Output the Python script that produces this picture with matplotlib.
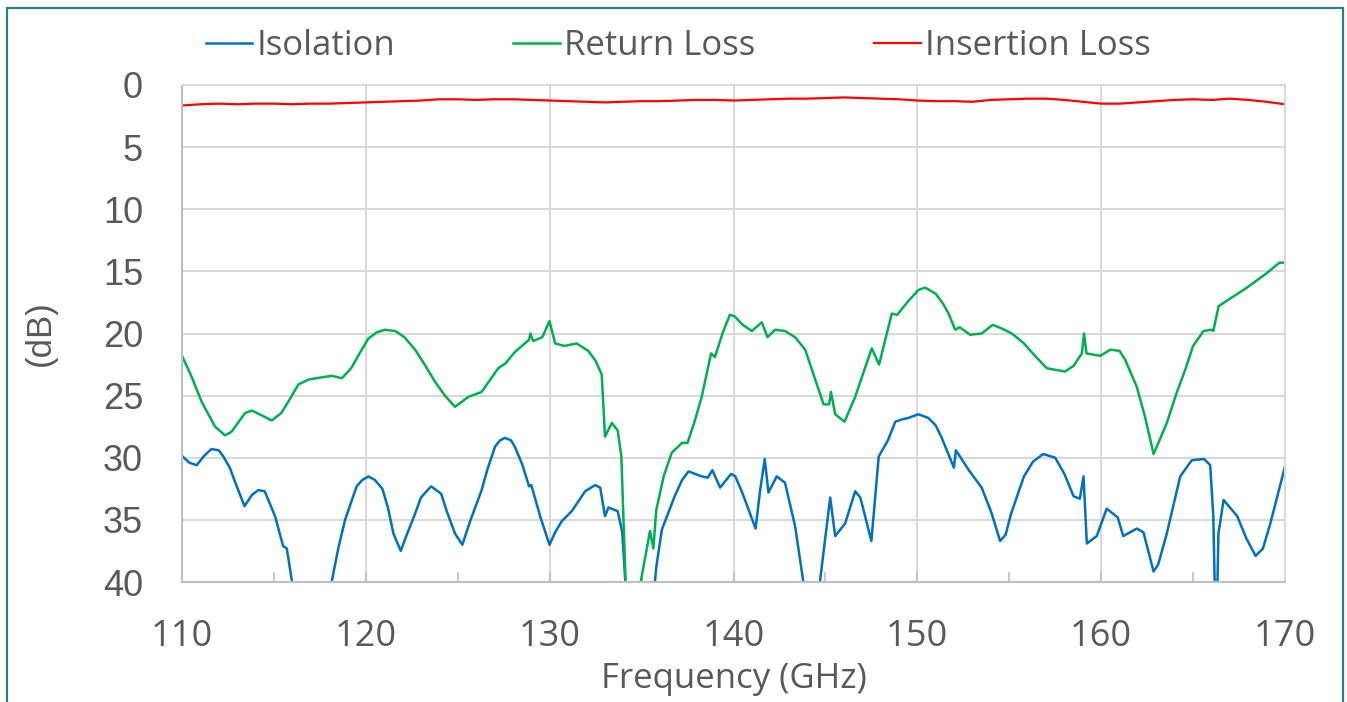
import matplotlib
matplotlib.use('Agg')
import matplotlib.pyplot as plt
from matplotlib.patches import Rectangle
from matplotlib.ticker import MultipleLocator

# Isolation (blue)
iso_f = [110.0, 110.4, 110.8, 111.2, 111.6, 112.0, 112.25, 112.6, 112.9, 113.4, 113.8, 114.15, 114.5,
         115.06, 115.5, 115.7, 116.2, 117.9, 118.14, 118.5, 118.87, 119.5, 119.8, 120.14, 120.5, 120.9,
         121.2, 121.5, 121.9, 122.2, 122.68, 123.0, 123.55, 124.1, 124.4, 124.85, 125.25, 125.7, 126.3,
         126.6, 127.03, 127.3, 127.57, 127.9, 128.1, 128.5, 128.88, 129.0, 129.5, 129.99, 130.3, 130.66,
         131.2, 131.93, 132.47, 132.75, 133.01, 133.2, 133.7, 133.95, 134.2, 135.6, 135.8, 136.1, 136.8,
         137.2, 137.55, 138.27, 138.6, 138.85, 139.27, 139.87, 140.1, 140.5, 141.2, 141.45, 141.7, 141.9,
         142.35, 142.8, 143.35, 143.8, 144.0, 144.5, 144.7, 145.26, 145.53, 146.07, 146.62, 146.9, 147.5,
         147.9, 148.4, 148.8, 149.2, 149.5, 150.06, 150.6, 151.0, 151.3, 151.99, 152.1, 152.8, 153.5,
         154.05, 154.5, 154.8, 155.1, 155.8, 156.3, 156.85, 157.5, 158.0, 158.5, 158.84, 159.04, 159.22,
         159.76, 160.3, 160.9, 161.2, 161.94, 162.3, 162.85, 163.1, 163.57, 164.3, 164.93, 165.6, 165.93,
         166.1, 166.2, 166.3, 166.38, 166.66, 167.4, 167.9, 168.4, 168.8, 169.2, 170.0]
iso_db = [29.85, 30.4, 30.6, 29.85, 29.3, 29.4, 29.9, 30.8, 32.0, 33.9, 33.0, 32.6, 32.7,
          34.7, 37.1, 37.3, 42, 42, 40, 37.3, 35.0, 32.3, 31.8, 31.5, 31.8, 32.5,
          34.0, 36.1, 37.5, 36.3, 34.5, 33.2, 32.3, 32.9, 34.3, 36.1, 37.0, 35.0, 32.6,
          31.0, 29.1, 28.6, 28.4, 28.6, 29.1, 30.5, 32.3, 32.2, 34.8, 37.0, 36.0, 35.1,
          34.3, 32.7, 32.2, 32.4, 34.7, 34.0, 34.3, 36.0, 42, 42, 38.8, 35.8, 33.1,
          31.8, 31.1, 31.5, 31.6, 31.0, 32.4, 31.3, 31.5, 32.9, 35.7, 32.6, 30.1, 32.8,
          31.5, 32.0, 35.5, 40, 42, 42, 40, 33.2, 36.3, 35.3, 32.7, 33.2, 36.7,
          29.9, 28.6, 27.1, 26.9, 26.8, 26.5, 26.8, 27.4, 28.3, 30.8, 29.4, 31.0, 32.4,
          34.5, 36.7, 36.2, 34.5, 31.5, 30.3, 29.7, 30.0, 31.3, 33.1, 33.3, 31.5, 36.9,
          36.3, 34.1, 34.8, 36.3, 35.7, 36.0, 39.15, 38.6, 36.1, 31.5, 30.2, 30.1, 30.6,
          34.7, 42, 42, 36.1, 33.4, 34.7, 36.5, 37.9, 37.3, 35.3, 30.7]

# Return Loss (green)
rl_f = [110.0, 110.5, 111.07, 111.8, 112.34, 112.7, 113.43, 113.8, 114.35, 114.88, 115.4, 115.9, 116.33,
        116.9, 118.14, 118.7, 119.2, 119.7, 120.14, 120.6, 121.04, 121.6, 122.1, 122.68, 123.2, 123.77,
        124.3, 124.85, 125.58, 126.3, 127.2, 127.6, 128.1, 128.88, 128.95, 129.1, 129.6, 129.99, 130.3,
        130.8, 131.47, 132.1, 132.5, 132.83, 133.01, 133.38, 133.7, 133.9, 134.13, 134.2, 134.85, 134.95,
        135.46, 135.64, 135.8, 136.2, 136.64, 137.2, 137.5, 137.9, 138.27, 138.78, 138.99, 139.4, 139.8,
        140.05, 140.5, 141.0, 141.54, 141.85, 142.26, 142.8, 143.35, 143.9, 144.4, 144.9, 145.2, 145.3,
        145.53, 146.04, 146.62, 147.1, 147.52, 147.92, 148.61, 148.9, 149.5, 150.06, 150.42, 151.0,
        151.4, 151.7, 152.06, 152.3, 152.87, 153.5, 154.1, 154.6, 155.14, 155.8, 156.4, 157.05, 158.04,
        158.5, 158.95, 159.07, 159.2, 159.95, 160.5, 161.0, 161.3, 161.94, 162.4, 162.85, 163.2, 163.57,
        164.1, 164.6, 165.0, 165.57, 166.0, 166.1, 166.39, 167.0, 167.74, 168.4, 169.0, 169.7, 170.0]
rl_db = [21.8, 23.4, 25.5, 27.5, 28.2, 27.9, 26.4, 26.2, 26.6, 27.0, 26.4, 25.2, 24.1,
         23.7, 23.4, 23.6, 22.8, 21.5, 20.4, 19.9, 19.7, 19.8, 20.3, 21.3, 22.5, 23.9,
         25.0, 25.9, 25.1, 24.7, 22.8, 22.4, 21.5, 20.5, 20.0, 20.6, 20.3, 19.0, 20.8,
         21.0, 20.8, 21.4, 22.2, 23.3, 28.3, 27.2, 27.8, 29.9, 40, 42, 42, 40,
         35.9, 37.3, 34.2, 31.5, 29.6, 28.8, 28.8, 27.0, 25.1, 21.6, 21.9, 20.0, 18.5,
         18.6, 19.3, 19.8, 19.1, 20.3, 19.7, 19.8, 20.3, 21.3, 23.5, 25.7, 25.7, 24.7,
         26.5, 27.1, 25.1, 23.0, 21.2, 22.5, 18.4, 18.5, 17.4, 16.5, 16.3, 16.8,
         17.6, 18.4, 19.7, 19.5, 20.1, 20.0, 19.3, 19.6, 20.0, 20.8, 21.8, 22.8, 23.06,
         22.6, 21.6, 20.0, 21.6, 21.8, 21.3, 21.4, 22.1, 24.3, 26.8, 29.7, 28.5, 27.2,
         24.8, 22.8, 21.0, 19.8, 19.7, 19.8, 17.8, 17.2, 16.5, 15.8, 15.15, 14.3, 14.3]

# Insertion Loss (red)
il_f = list(range(110, 171))
il_db = [1.65, 1.55, 1.5, 1.55, 1.5, 1.5, 1.55, 1.5, 1.5, 1.45, 1.4, 1.35, 1.3, 1.25, 1.15, 1.15,
         1.2, 1.15, 1.15, 1.2, 1.25, 1.3, 1.35, 1.4, 1.35, 1.3, 1.3, 1.25, 1.2, 1.2, 1.25, 1.2,
         1.15, 1.1, 1.1, 1.05, 1.0, 1.05, 1.1, 1.15, 1.25, 1.3, 1.3, 1.35, 1.2, 1.15, 1.1, 1.1,
         1.2, 1.35, 1.5, 1.5, 1.4, 1.3, 1.2, 1.15, 1.2, 1.1, 1.2, 1.35, 1.55]

txt = '#595959'
fig = plt.figure(figsize=(13.47, 7.02), dpi=100)
ax = fig.add_axes([182/1347, 1-582/702, (1285-182)/1347, (582-85)/702])

ax.plot(iso_f, iso_db, color='#0070C0', lw=1.8, label='Isolation')
ax.plot(rl_f, rl_db, color='#00B050', lw=1.8, label='Return Loss')
ax.plot(il_f, il_db, color='#FF0000', lw=1.6, label='Insertion Loss')

ax.set_xlim(110, 170)
ax.set_ylim(40, 0)
ax.xaxis.set_major_locator(MultipleLocator(10))
ax.xaxis.set_minor_locator(MultipleLocator(5))
ax.yaxis.set_major_locator(MultipleLocator(5))
ax.grid(True, which='major', color='#D9D9D9', lw=1.5)
ax.set_axisbelow(True)
for s in ['top', 'right']:
    ax.spines[s].set_color('#D9D9D9')
    ax.spines[s].set_linewidth(1.5)
for s in ['left', 'bottom']:
    ax.spines[s].set_color('#BFBFBF')
    ax.spines[s].set_linewidth(1.5)

ax.tick_params(axis='x', which='both', direction='in', length=7, width=1.2, color='#BFBFBF',
               pad=27, labelsize=26, labelcolor=txt)
ax.tick_params(axis='y', length=0, pad=28, labelsize=26, labelcolor=txt)
for lab in ax.get_xticklabels():
    lab.set_family('Open Sans')
for lab in ax.get_yticklabels():
    lab.set_family('Liberation Sans')

ax.set_xlabel('Frequency (GHz)', fontsize=25, color=txt, family='Open Sans', labelpad=5)
ax.set_ylabel('(dB)', fontsize=25, color=txt, family='Liberation Sans', labelpad=33)

fig.legend(loc='center', bbox_to_anchor=(678/1347, 1-46/702), ncol=3, frameon=False,
           prop={'family': 'Open Sans', 'size': 25}, labelcolor=txt,
           handlelength=1.35, handletextpad=0.12, columnspacing=3.4)

fig.patches.append(Rectangle((7/1347, -0.05), (1343-7)/1347, 1.05 - 8/702, transform=fig.transFigure,
                             fill=False, edgecolor='#2A7F8E', lw=1.6))

fig.savefig('out.png', dpi=100)
